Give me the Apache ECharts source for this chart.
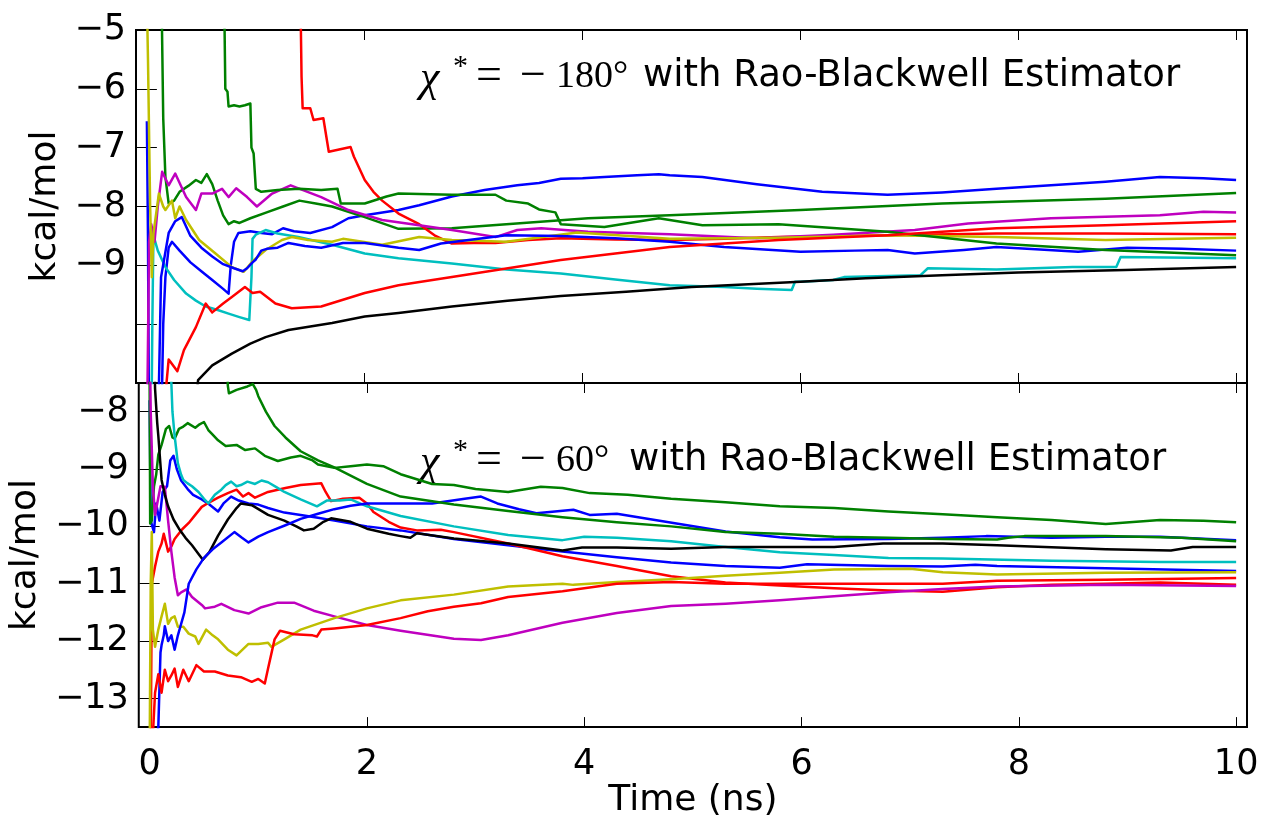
<!DOCTYPE html>
<html>
<head>
<meta charset="utf-8">
<script src="https://cdn.jsdelivr.net/npm/echarts@6/dist/echarts.min.js"></script>
<style>
  html, body { margin: 0; padding: 0; background: #fff; }
  #chart { width: 1263px; height: 820px; }
</style>
</head>
<body>
<div id="chart"></div>
<script>
// Running free-energy estimates (kcal/mol) vs simulation time (ns), [time, value] pairs.

// ---- upper panel: chi* = -180 deg ----
const topBlue1 = [[0,-6.55],[0.01,-8.5],[0.02,-12],[0.13,-12],[0.15,-10],[0.17,-9.2],[0.2,-8.7],[0.23,-8.6],[0.3,-8.75],[0.4,-8.95],[0.5,-9.1],[0.6,-9.25],[0.7,-9.4],[0.75,-9.48],[0.77,-9.0],[0.8,-8.6],[0.84,-8.45],[0.95,-8.42],[1.05,-8.45],[1.15,-8.47],[1.25,-8.37],[1.35,-8.42],[1.5,-8.45],[1.7,-8.35],[1.85,-8.2],[2.0,-8.15],[2.31,-8.06],[2.5,-7.98],[2.8,-7.83],[3.1,-7.72],[3.4,-7.64],[3.6,-7.6],[3.8,-7.53],[4.0,-7.52],[4.2,-7.5],[4.5,-7.47],[4.7,-7.45],[4.8,-7.47],[5.1,-7.5],[5.6,-7.62],[6.2,-7.75],[6.8,-7.8],[7.3,-7.76],[7.8,-7.7],[8.3,-7.64],[8.8,-7.58],[9.3,-7.5],[9.7,-7.52],[10,-7.55]];
const topGreen1 = [[0.135,-4.5],[0.15,-6.5],[0.17,-7.5],[0.2,-7.95],[0.25,-7.9],[0.3,-7.75],[0.38,-7.65],[0.45,-7.55],[0.5,-7.6],[0.55,-7.45],[0.6,-7.62],[0.65,-7.9],[0.7,-8.15],[0.75,-8.3],[0.8,-8.25],[0.85,-8.28],[0.95,-8.2],[1.1,-8.1],[1.25,-8.0],[1.4,-7.9],[1.55,-7.95],[1.7,-8.0],[2.0,-8.18],[2.31,-8.38],[2.8,-8.37],[3.3,-8.3],[4.05,-8.2],[4.8,-8.15],[6.0,-8.06],[7.3,-7.95],[8.8,-7.87],[10,-7.77]];
const topRed1 = [[1.41,-4.5],[1.42,-5.8],[1.43,-6.33],[1.5,-6.33],[1.53,-6.53],[1.62,-6.5],[1.67,-7.07],[1.87,-6.99],[1.9,-7.15],[2.0,-7.55],[2.08,-7.75],[2.16,-7.9],[2.31,-8.12],[2.5,-8.3],[2.65,-8.5],[2.8,-8.63],[3.0,-8.62],[3.2,-8.62],[3.5,-8.57],[3.8,-8.54],[4.3,-8.56],[4.8,-8.57],[5.3,-8.55],[5.8,-8.52],[6.8,-8.49],[7.8,-8.46],[8.8,-8.46],[10,-8.47]];
const topCyan = [[0.04,-12],[0.05,-10],[0.06,-8.49],[0.1,-8.75],[0.17,-9.03],[0.25,-9.25],[0.36,-9.48],[0.45,-9.6],[0.54,-9.7],[0.65,-9.76],[0.75,-9.82],[0.85,-9.88],[0.94,-9.93],[0.96,-9.2],[0.97,-8.55],[1.0,-8.48],[1.09,-8.4],[1.2,-8.46],[1.39,-8.52],[1.7,-8.65],[2.0,-8.8],[2.31,-8.88],[2.8,-8.97],[3.3,-9.07],[3.8,-9.14],[4.3,-9.24],[4.8,-9.34],[5.3,-9.37],[5.6,-9.4],[5.92,-9.42],[5.95,-9.28],[6.0,-9.28],[6.3,-9.25],[6.4,-9.2],[7.1,-9.17],[7.17,-9.05],[7.8,-9.07],[8.5,-9.03],[8.9,-9.03],[8.94,-8.86],[10,-8.88]];
const topMagenta = [[0.0,-12],[0.02,-8.6],[0.04,-8.3],[0.07,-8.6],[0.1,-8.0],[0.14,-7.41],[0.2,-7.64],[0.26,-7.44],[0.36,-7.84],[0.45,-8.06],[0.5,-7.78],[0.6,-7.78],[0.69,-7.7],[0.75,-7.84],[0.82,-7.69],[0.92,-7.84],[1.01,-8.0],[1.15,-7.78],[1.32,-7.64],[1.6,-7.84],[1.85,-8.06],[2.16,-8.23],[2.5,-8.32],[2.8,-8.4],[3.2,-8.52],[3.4,-8.4],[3.62,-8.37],[4.05,-8.43],[4.8,-8.47],[5.6,-8.54],[6.3,-8.48],[7.05,-8.4],[7.54,-8.29],[8.3,-8.2],[9.3,-8.15],[9.7,-8.09],[10,-8.1]];
const topYellow = [[0.0,-4.5],[0.01,-5.5],[0.03,-8.0],[0.045,-9.2],[0.06,-8.46],[0.11,-7.78],[0.15,-8.0],[0.17,-8.06],[0.23,-7.9],[0.26,-8.2],[0.3,-8.0],[0.36,-8.23],[0.48,-8.57],[0.63,-8.8],[0.78,-9.03],[0.89,-9.11],[0.97,-8.93],[1.09,-8.74],[1.24,-8.57],[1.33,-8.52],[1.48,-8.57],[1.7,-8.6],[1.8,-8.55],[2.16,-8.65],[2.5,-8.52],[2.8,-8.57],[3.3,-8.6],[3.95,-8.44],[4.8,-8.55],[5.8,-8.53],[6.8,-8.49],[7.8,-8.52],[8.8,-8.57],[10,-8.53]];
const topBlack = [[0.44,-11.5],[0.47,-10.95],[0.6,-10.7],[0.78,-10.5],[0.95,-10.33],[1.09,-10.22],[1.3,-10.1],[1.7,-9.98],[2.0,-9.87],[2.31,-9.81],[2.8,-9.7],[3.31,-9.6],[3.8,-9.52],[4.4,-9.45],[5.0,-9.37],[6.0,-9.28],[6.6,-9.22],[7.3,-9.17],[8.0,-9.12],[8.98,-9.08],[10,-9.03]];
const topBlue2 = [[0.1,-12],[0.13,-9.2],[0.2,-8.45],[0.26,-8.25],[0.32,-8.18],[0.4,-8.5],[0.5,-8.7],[0.6,-8.85],[0.7,-8.98],[0.8,-9.05],[0.88,-9.1],[0.92,-9.05],[0.97,-8.95],[1.0,-8.9],[1.05,-8.75],[1.1,-8.72],[1.2,-8.7],[1.3,-8.62],[1.45,-8.67],[1.6,-8.7],[1.8,-8.62],[2.0,-8.62],[2.31,-8.7],[2.5,-8.74],[2.7,-8.63],[3.3,-8.49],[3.8,-8.5],[4.3,-8.54],[4.8,-8.6],[5.3,-8.69],[6.0,-8.77],[6.5,-8.75],[6.8,-8.74],[7.05,-8.8],[7.5,-8.74],[7.8,-8.69],[8.2,-8.73],[8.55,-8.77],[9.0,-8.7],[9.5,-8.72],[10,-8.75]];
const topGreen2 = [[0.71,-4.5],[0.72,-6.0],[0.74,-6.05],[0.75,-6.3],[0.8,-6.28],[0.85,-6.3],[0.9,-6.28],[0.95,-6.25],[0.96,-7.0],[0.98,-7.1],[1.0,-7.7],[1.05,-7.75],[1.2,-7.72],[1.4,-7.7],[1.6,-7.72],[1.75,-7.7],[1.78,-7.95],[2.0,-7.95],[2.2,-7.83],[2.31,-7.78],[2.8,-7.8],[3.2,-7.8],[3.3,-7.9],[3.5,-7.95],[3.6,-8.05],[3.75,-8.1],[3.8,-8.3],[4.2,-8.35],[4.7,-8.2],[5.1,-8.32],[5.8,-8.3],[6.8,-8.43],[7.8,-8.63],[8.8,-8.74],[10,-8.83]];
const topRed2 = [[0.17,-12],[0.18,-11.0],[0.2,-10.6],[0.28,-10.8],[0.34,-10.44],[0.45,-10.05],[0.54,-9.65],[0.6,-9.8],[0.7,-9.65],[0.78,-9.54],[0.9,-9.37],[0.97,-9.47],[1.04,-9.45],[1.18,-9.65],[1.33,-9.73],[1.6,-9.7],[2.0,-9.47],[2.31,-9.34],[2.8,-9.2],[3.8,-8.91],[4.8,-8.69],[5.8,-8.57],[6.8,-8.49],[7.8,-8.37],[8.8,-8.32],[10,-8.25]];

// ---- lower panel: chi* = -60 deg ----
const botBlue1 = [[0.0,-7.8],[0.01,-9.9],[0.04,-10.1],[0.06,-9.6],[0.09,-9.9],[0.12,-9.4],[0.16,-9.3],[0.19,-8.85],[0.22,-8.77],[0.25,-9.0],[0.29,-9.2],[0.35,-9.35],[0.4,-9.45],[0.48,-9.53],[0.55,-9.62],[0.63,-9.74],[0.68,-9.6],[0.75,-9.48],[0.82,-9.55],[0.91,-9.6],[1.0,-9.62],[1.09,-9.68],[1.24,-9.76],[1.39,-9.8],[1.55,-9.85],[1.7,-9.9],[2.0,-10.0],[2.31,-10.07],[2.8,-10.22],[3.3,-10.33],[3.8,-10.44],[4.3,-10.54],[4.8,-10.63],[5.3,-10.69],[5.8,-10.72],[6.05,-10.66],[6.8,-10.69],[7.3,-10.7],[7.6,-10.67],[7.8,-10.69],[8.8,-10.73],[10,-10.78]];
const botGreen1 = [[0.0,-7.4],[0.005,-9.95],[0.02,-9.9],[0.04,-9.3],[0.06,-9.1],[0.08,-8.75],[0.11,-8.58],[0.15,-8.3],[0.18,-8.25],[0.21,-8.45],[0.23,-8.47],[0.27,-8.3],[0.31,-8.26],[0.35,-8.2],[0.42,-8.28],[0.46,-8.22],[0.5,-8.18],[0.54,-8.32],[0.58,-8.4],[0.63,-8.5],[0.7,-8.6],[0.8,-8.58],[0.88,-8.67],[0.97,-8.64],[1.06,-8.77],[1.18,-8.86],[1.3,-8.8],[1.39,-8.77],[1.5,-8.85],[1.55,-8.92],[1.7,-8.98],[1.85,-8.95],[2.0,-8.92],[2.15,-8.95],[2.31,-9.09],[2.6,-9.26],[2.8,-9.28],[3.0,-9.35],[3.3,-9.4],[3.6,-9.31],[3.8,-9.33],[4.05,-9.42],[4.4,-9.45],[4.8,-9.52],[5.3,-9.58],[5.8,-9.65],[6.3,-9.68],[6.8,-9.74],[7.3,-9.79],[7.8,-9.84],[8.3,-9.89],[8.8,-9.96],[9.3,-9.89],[9.7,-9.9],[10,-9.93]];
const botRed1 = [[0.01,-14],[0.02,-11.0],[0.05,-10.7],[0.08,-10.44],[0.11,-10.3],[0.13,-10.13],[0.17,-10.44],[0.2,-10.35],[0.23,-10.22],[0.3,-10.05],[0.36,-9.94],[0.42,-9.8],[0.48,-9.66],[0.55,-9.58],[0.63,-9.5],[0.72,-9.42],[0.8,-9.36],[0.86,-9.48],[0.91,-9.42],[0.97,-9.5],[1.09,-9.4],[1.25,-9.33],[1.39,-9.28],[1.5,-9.26],[1.58,-9.25],[1.62,-9.4],[1.67,-9.56],[1.78,-9.52],[1.93,-9.5],[2.0,-9.6],[2.06,-9.75],[2.2,-9.92],[2.31,-10.02],[2.46,-10.07],[2.68,-10.06],[2.8,-10.1],[3.3,-10.3],[3.8,-10.52],[4.3,-10.69],[4.8,-10.87],[5.3,-10.98],[5.8,-11.03],[6.3,-11.08],[6.8,-11.12],[7.3,-11.14],[7.8,-11.06],[8.3,-11.02],[8.8,-11.0],[9.3,-10.98],[10,-11.02]];
const botCyan = [[0.18,-6.0],[0.2,-7.5],[0.21,-8.0],[0.23,-8.42],[0.26,-8.9],[0.29,-9.1],[0.31,-9.19],[0.35,-9.25],[0.39,-9.3],[0.45,-9.4],[0.5,-9.52],[0.54,-9.6],[0.6,-9.45],[0.66,-9.36],[0.7,-9.28],[0.75,-9.22],[0.8,-9.3],[0.84,-9.28],[0.9,-9.22],[0.97,-9.26],[1.03,-9.2],[1.09,-9.23],[1.17,-9.32],[1.24,-9.4],[1.39,-9.53],[1.54,-9.65],[1.63,-9.55],[1.75,-9.55],[1.85,-9.53],[2.0,-9.65],[2.31,-9.82],[2.8,-10.0],[3.3,-10.15],[3.8,-10.24],[4.0,-10.18],[4.3,-10.2],[4.8,-10.26],[5.3,-10.36],[5.8,-10.45],[6.3,-10.5],[6.8,-10.55],[7.3,-10.56],[8.3,-10.6],[9.3,-10.62],[10,-10.62]];
const botMagenta = [[0.0,-6.5],[0.01,-8.0],[0.03,-9.3],[0.05,-9.8],[0.07,-9.6],[0.1,-9.3],[0.14,-9.31],[0.17,-9.9],[0.2,-10.44],[0.23,-10.89],[0.26,-11.2],[0.29,-11.15],[0.34,-11.1],[0.39,-11.23],[0.48,-11.37],[0.51,-11.43],[0.6,-11.4],[0.66,-11.35],[0.78,-11.46],[0.91,-11.52],[1.03,-11.41],[1.18,-11.33],[1.33,-11.33],[1.51,-11.47],[1.7,-11.57],[2.0,-11.72],[2.31,-11.82],[2.8,-11.96],[3.05,-11.98],[3.3,-11.9],[3.8,-11.68],[4.3,-11.51],[4.8,-11.39],[5.3,-11.35],[5.8,-11.29],[6.3,-11.22],[6.8,-11.15],[7.3,-11.09],[7.8,-11.05],[8.8,-11.02],[10,-11.04]];
const botYellow = [[0.0,-14],[0.01,-11.0],[0.02,-10.1],[0.03,-11.8],[0.05,-12.1],[0.08,-11.8],[0.11,-11.57],[0.14,-11.35],[0.17,-11.7],[0.2,-11.6],[0.23,-11.57],[0.26,-11.75],[0.31,-11.75],[0.36,-11.87],[0.42,-11.92],[0.45,-12.05],[0.52,-11.8],[0.58,-11.9],[0.63,-11.97],[0.72,-12.15],[0.8,-12.25],[0.91,-12.05],[1.0,-12.05],[1.09,-12.03],[1.12,-12.1],[1.24,-11.97],[1.39,-11.8],[1.7,-11.6],[2.0,-11.43],[2.31,-11.29],[2.8,-11.19],[3.3,-11.05],[3.8,-11.0],[3.9,-11.02],[4.3,-10.97],[4.8,-10.92],[5.3,-10.86],[5.8,-10.81],[6.3,-10.75],[7.0,-10.74],[7.3,-10.8],[7.8,-10.84],[8.8,-10.81],[10,-10.8]];
const botBlack = [[0.04,-6.5],[0.05,-7.6],[0.07,-8.2],[0.08,-8.42],[0.11,-9.19],[0.14,-9.45],[0.17,-9.65],[0.22,-9.88],[0.27,-10.04],[0.33,-10.2],[0.39,-10.33],[0.45,-10.48],[0.49,-10.58],[0.55,-10.45],[0.63,-10.16],[0.72,-9.88],[0.8,-9.68],[0.84,-9.6],[0.94,-9.63],[1.09,-9.8],[1.24,-9.9],[1.35,-10.0],[1.42,-10.07],[1.51,-10.04],[1.6,-9.92],[1.67,-9.86],[1.85,-9.92],[2.0,-10.04],[2.2,-10.13],[2.31,-10.17],[2.4,-10.2],[2.46,-10.12],[2.8,-10.21],[3.3,-10.3],[3.8,-10.42],[3.98,-10.37],[4.3,-10.37],[4.8,-10.39],[5.3,-10.36],[5.8,-10.36],[6.3,-10.36],[6.75,-10.3],[7.3,-10.3],[7.8,-10.33],[8.8,-10.4],[9.4,-10.42],[9.6,-10.36],[10,-10.36]];
const botBlue2 = [[0.03,-14],[0.08,-13.5],[0.1,-12.2],[0.11,-12.07],[0.13,-11.9],[0.14,-11.74],[0.17,-12.0],[0.2,-11.9],[0.23,-12.15],[0.26,-11.9],[0.29,-11.7],[0.32,-11.5],[0.36,-11.0],[0.43,-10.75],[0.5,-10.55],[0.58,-10.4],[0.66,-10.28],[0.78,-10.1],[0.85,-10.2],[0.91,-10.28],[1.0,-10.18],[1.09,-10.1],[1.25,-9.98],[1.39,-9.87],[1.55,-9.78],[1.7,-9.7],[1.85,-9.64],[2.0,-9.6],[2.31,-9.6],[2.6,-9.6],[2.9,-9.52],[3.05,-9.48],[3.2,-9.6],[3.4,-9.7],[3.56,-9.77],[3.9,-9.71],[4.05,-9.8],[4.3,-9.78],[4.75,-9.92],[5.3,-10.09],[5.8,-10.19],[6.1,-10.23],[6.8,-10.22],[7.3,-10.2],[7.7,-10.17],[8.3,-10.2],[8.8,-10.18],[9.3,-10.18],[10,-10.24]];
const botGreen2 = [[0.7,-6.5],[0.72,-7.55],[0.73,-7.68],[0.8,-7.62],[0.9,-7.56],[0.95,-7.52],[0.98,-7.62],[1.0,-7.73],[1.07,-8.0],[1.15,-8.25],[1.25,-8.45],[1.39,-8.69],[1.55,-8.85],[1.7,-8.97],[2.0,-9.26],[2.31,-9.48],[2.8,-9.62],[3.3,-9.73],[3.8,-9.84],[4.3,-9.93],[4.8,-10.0],[5.3,-10.1],[5.8,-10.13],[6.3,-10.18],[6.8,-10.2],[7.3,-10.22],[7.8,-10.23],[7.9,-10.2],[8.05,-10.17],[8.8,-10.17],[9.5,-10.2],[10,-10.26]];
const botRed2 = [[0.02,-14],[0.05,-12.9],[0.08,-12.58],[0.11,-12.9],[0.14,-12.5],[0.17,-12.7],[0.2,-12.6],[0.23,-12.48],[0.26,-12.8],[0.31,-12.5],[0.36,-12.7],[0.43,-12.42],[0.5,-12.53],[0.6,-12.53],[0.72,-12.6],[0.84,-12.63],[0.94,-12.71],[1.0,-12.66],[1.06,-12.74],[1.09,-12.48],[1.15,-11.97],[1.2,-11.82],[1.33,-11.88],[1.5,-11.9],[1.54,-11.92],[1.58,-11.8],[1.7,-11.78],[2.0,-11.72],[2.31,-11.6],[2.56,-11.48],[2.8,-11.4],[3.05,-11.34],[3.3,-11.23],[3.8,-11.13],[4.3,-11.0],[4.8,-10.97],[5.3,-11.0],[6.3,-11.0],[7.3,-11.0],[7.8,-10.95],[8.8,-10.93],[10,-10.9]];

// axis ticks
const timeTicks = [0, 2, 4, 6, 8, 10];
const topTicks = [-11, -10, -9, -8, -7, -6, -5];
const topTickLabels = [-9, -8, -7, -6, -5];
const botTicks = [-13, -12, -11, -10, -9, -8];

// matplotlib classic colour cycle
const C = { b: '#0000ff', g: '#008000', r: '#ff0000', c: '#00bfbf', m: '#bf00bf', y: '#bfbf00', k: '#000000' };

const topLines = [[topBlue1, C.b], [topGreen1, C.g], [topRed1, C.r], [topCyan, C.c], [topMagenta, C.m], [topYellow, C.y], [topBlack, C.k], [topBlue2, C.b], [topGreen2, C.g], [topRed2, C.r]];
const botLines = [[botBlue1, C.b], [botGreen1, C.g], [botRed1, C.r], [botCyan, C.c], [botMagenta, C.m], [botYellow, C.y], [botBlack, C.k], [botBlue2, C.b], [botGreen2, C.g], [botRed2, C.r]];

const minus = v => (v < 0 ? '\u2212' + (-v) : String(v));
const FONT = 'DejaVu Sans';

function line(data, color, xi, yi) {
  return {
    type: 'line', data, xAxisIndex: xi, yAxisIndex: yi,
    showSymbol: false, symbol: 'none', clip: true, silent: true,
    lineStyle: { color, width: 2.5, join: 'round' }, itemStyle: { color },
    emphasis: { disabled: true }
  };
}

function xAx(grid, pos, labels) {
  const ax = {
    gridIndex: grid, type: 'value', position: pos, min: -0.1, max: 10.1,
    axisLine: { show: false }, splitLine: { show: false },
    axisTick: { show: true, inside: true, length: 10, customValues: timeTicks, lineStyle: { color: '#000', width: 1 } },
    axisLabel: { show: false }
  };
  if (labels) {
    ax.axisLabel = { show: true, customValues: timeTicks, fontFamily: FONT, fontSize: 35, color: '#000', margin: 20 };
    ax.name = 'Time (ns)';
    ax.nameLocation = 'middle';
    ax.nameGap = 55;
    ax.nameTextStyle = { fontFamily: FONT, fontSize: 36, color: '#000' };
  }
  return ax;
}

function yAx(grid, pos, min, max, ticks, labelVals, nameGap) {
  const ax = {
    gridIndex: grid, type: 'value', position: pos, min, max,
    axisLine: { show: false }, splitLine: { show: false },
    axisTick: { show: true, inside: true, length: 10, customValues: ticks, lineStyle: { color: '#000', width: 1 } },
    axisLabel: { show: false }
  };
  if (labelVals) {
    ax.axisLabel = { show: true, customValues: labelVals, formatter: minus, fontFamily: FONT, fontSize: 35, color: '#000', margin: 10 };
    ax.name = 'kcal/mol';
    ax.nameLocation = 'middle';
    ax.nameRotate = 90;
    ax.nameGap = nameGap;
    ax.nameTextStyle = { fontFamily: FONT, fontSize: 36, color: '#000' };
  }
  return ax;
}

// "chi* = -angle deg with Rao-Blackwell Estimator", math part set in a serif face
function annotation(left, cy, angle, withX) {
  const serif = '"Liberation Serif", "DejaVu Serif", serif';
  const base = { fill: '#000', verticalAlign: 'middle', align: 'left' };
  return [
    { type: 'text', x: left, y: cy + 3, style: Object.assign({ text: '\u03c7', font: 'italic 44px ' + serif }, base) },
    { type: 'text', x: left + 33, y: cy - 9, style: Object.assign({ text: '*', font: '30px ' + serif }, base) },
    { type: 'text', x: left + 56, y: cy + 1, style: Object.assign({ text: '=', font: '46px ' + serif }, base) },
    { type: 'text', x: left + 100, y: cy + 1, style: Object.assign({ text: '\u2212', font: '46px ' + serif }, base) },
    { type: 'text', x: left + 136, y: cy + 1, style: Object.assign({ text: angle + '\u00b0', font: '38px ' + serif }, base) },
    { type: 'text', x: withX, y: cy, style: Object.assign({ text: 'with Rao-Blackwell Estimator', font: '37px "' + FONT + '"' }, base) }
  ];
}

const chart = echarts.init(document.getElementById('chart'), null, { renderer: 'canvas' });
chart.setOption({
  animation: false,
  backgroundColor: '#fff',
  grid: [
    { left: 136, top: 30, width: 1111, height: 353, show: true, borderColor: '#000', borderWidth: 2, backgroundColor: 'transparent' },
    { left: 136, top: 383, width: 1111, height: 354, show: true, borderColor: '#000', borderWidth: 2, backgroundColor: 'transparent' }
  ],
  xAxis: [xAx(0, 'bottom', false), xAx(0, 'top', false), xAx(1, 'bottom', true), xAx(1, 'top', false)],
  yAxis: [
    yAx(0, 'left', -11, -5, topTicks, topTickLabels, 57),
    yAx(0, 'right', -11, -5, topTicks, null),
    yAx(1, 'left', -13.5, -7.5, botTicks, botTicks, 84),
    yAx(1, 'right', -13.5, -7.5, botTicks, null)
  ],
  series: [
    ...topLines.map(([d, c]) => line(d, c, 0, 0)),
    ...botLines.map(([d, c]) => line(d, c, 2, 2))
  ],
  graphic: [
    ...annotation(420, 76, '180', 643),
    ...annotation(420, 460, '60', 629)
  ]
});
</script>
</body>
</html>
